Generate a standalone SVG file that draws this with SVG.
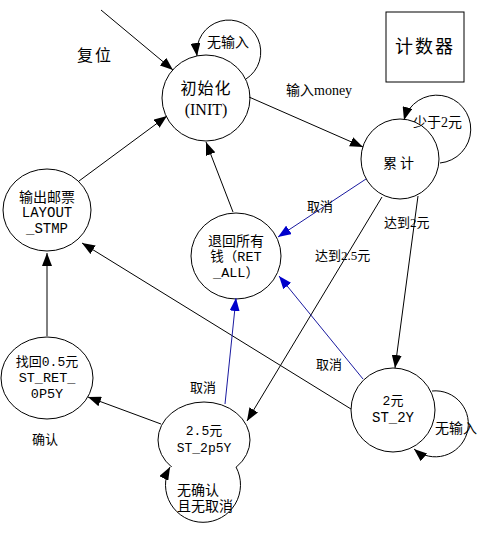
<svg xmlns="http://www.w3.org/2000/svg" width="496" height="539" viewBox="0 0 496 539">
<style>
.n{fill:#fff;stroke:#000;stroke-width:1}
.e{fill:none;stroke:#000;stroke-width:1}
.b{fill:none;stroke:#1a1aa0;stroke-width:1}
text{font-family:"Liberation Serif","Noto Sans CJK SC",serif;font-size:13px;fill:#000;text-anchor:middle;dominant-baseline:central}
.m{font-family:"Liberation Mono","Noto Sans CJK SC",monospace}
.l{text-anchor:start}
</style>
<defs>
<marker id="ak" markerUnits="userSpaceOnUse" markerWidth="13" markerHeight="10" refX="13" refY="5" orient="auto"><path d="M0,0 L13,5 L0,10 z" fill="#000"/></marker>
<marker id="ab" markerUnits="userSpaceOnUse" markerWidth="13" markerHeight="10" refX="13" refY="5" orient="auto"><path d="M0,0 L13,5 L0,10 z" fill="#0000cc"/></marker>
</defs>
<rect width="496" height="539" fill="#fff"/>
<g id="counter">
<rect x="386" y="12" width="78" height="70" fill="#fff" stroke="#000"/>
<text x="425" y="47" style="font-size:18px;letter-spacing:2px">计数器</text>
</g>
<g id="init">
<ellipse class="n" cx="206" cy="98" rx="44" ry="43"/>
<text x="206" y="88" style="font-size:16px;letter-spacing:1px">初始化</text>
<text x="206" y="109" style="font-size:16px">(INIT)</text>
</g>
<g id="accum">
<ellipse class="n" cx="400" cy="159" rx="39" ry="40"/>
<text x="400" y="163" style="font-size:14px;letter-spacing:3px">累计</text>
</g>
<g id="layout_stmp">
<ellipse class="n" cx="47" cy="210" rx="44" ry="41"/>
<text x="47" y="197" style="font-size:14px">输出邮票</text>
<text class="m" x="47" y="213" style="font-size:14px">LAYOUT</text>
<text class="m" x="47" y="229" style="font-size:14px">_STMP</text>
</g>
<g id="ret_all">
<ellipse class="n" cx="236" cy="256" rx="45" ry="43"/>
<text x="236" y="241" style="font-size:14px">退回所有</text>
<text class="m" x="236" y="257" style="font-size:13.5px">钱（RET</text>
<text class="m" x="236" y="273" style="font-size:13.5px">_ALL）</text>
</g>
<g id="st_ret_0p5y">
<ellipse class="n" cx="47" cy="378" rx="46" ry="41"/>
<text class="m" x="47" y="362">找回0.5元</text>
<text class="m" x="47" y="378" style="font-size:13.5px">ST_RET_</text>
<text class="m" x="47" y="394" style="font-size:13.5px">0P5Y</text>
</g>
<g id="st_2p5y">
<ellipse class="n" cx="204" cy="440" rx="46" ry="38"/>
<text class="m" x="204" y="431">2.5元</text>
<text class="m" x="204" y="448">ST_2p5Y</text>
</g>
<g id="st_2y">
<ellipse class="n" cx="393" cy="410" rx="42" ry="42"/>
<text class="m" x="393" y="401">2元</text>
<text class="m" x="393" y="418" style="font-size:14px">ST_2Y</text>
</g>
<g id="connectors">
<path class="e" d="M101 10 L173 70" marker-end="url(#ak)"/>
<path class="e" d="M79 181 L167 116" marker-end="url(#ak)"/>
<path class="e" d="M249 97 L363 147" marker-end="url(#ak)"/>
<path class="e" d="M233 212 L206 142" marker-end="url(#ak)"/>
<path class="b" d="M366 179 L278 237" marker-end="url(#ab)"/>
<path class="e" d="M418 196 L395 368" marker-end="url(#ak)"/>
<path class="e" d="M382 197 L247 421" marker-end="url(#ak)"/>
<path class="b" d="M363 379 L279 276" marker-end="url(#ab)"/>
<path class="e" d="M351 409 L82 243" marker-end="url(#ak)"/>
<path class="b" d="M225 404 L236 298" marker-end="url(#ab)"/>
<path class="e" d="M161 424 L88 397" marker-end="url(#ak)"/>
<path class="e" d="M47 336 L47 253" marker-end="url(#ak)"/>
<path class="e" d="M246 79 A32 32 0 1 0 197 56" marker-end="url(#ak)"/>
<path class="e" d="M440 163 A34 34 0 1 0 404 120" marker-end="url(#ak)"/>
<path class="e" d="M432 391 A33 33 0 1 1 414 449" marker-end="url(#ak)"/>
<path class="e" d="M236 467 A37.5 37.5 0 1 1 170 467" style="fill:#fff" marker-end="url(#ak)"/>
<text x="95" y="55" style="font-size:16px;letter-spacing:2px">复位</text>
<text x="228" y="42" style="font-size:14px">无输入</text>
<text class="l" x="286" y="90" style="font-size:14px">输入money</text>
<text class="l" x="413" y="122" style="font-size:14px">少于2元</text>
<text class="l" x="307" y="206">取消</text>
<text class="l" x="384" y="222">达到2元</text>
<text class="l" x="315" y="255">达到2.5元</text>
<text class="l" x="316" y="364">取消</text>
<text class="l" x="190" y="387">取消</text>
<text class="l" x="32" y="439">确认</text>
<text class="l" x="435" y="428" style="font-size:14px">无输入</text>
<text class="l" x="177" y="490" style="font-size:14px">无确认</text>
<text class="l" x="177" y="506" style="font-size:14px">且无取消</text>
</g>
</svg>
